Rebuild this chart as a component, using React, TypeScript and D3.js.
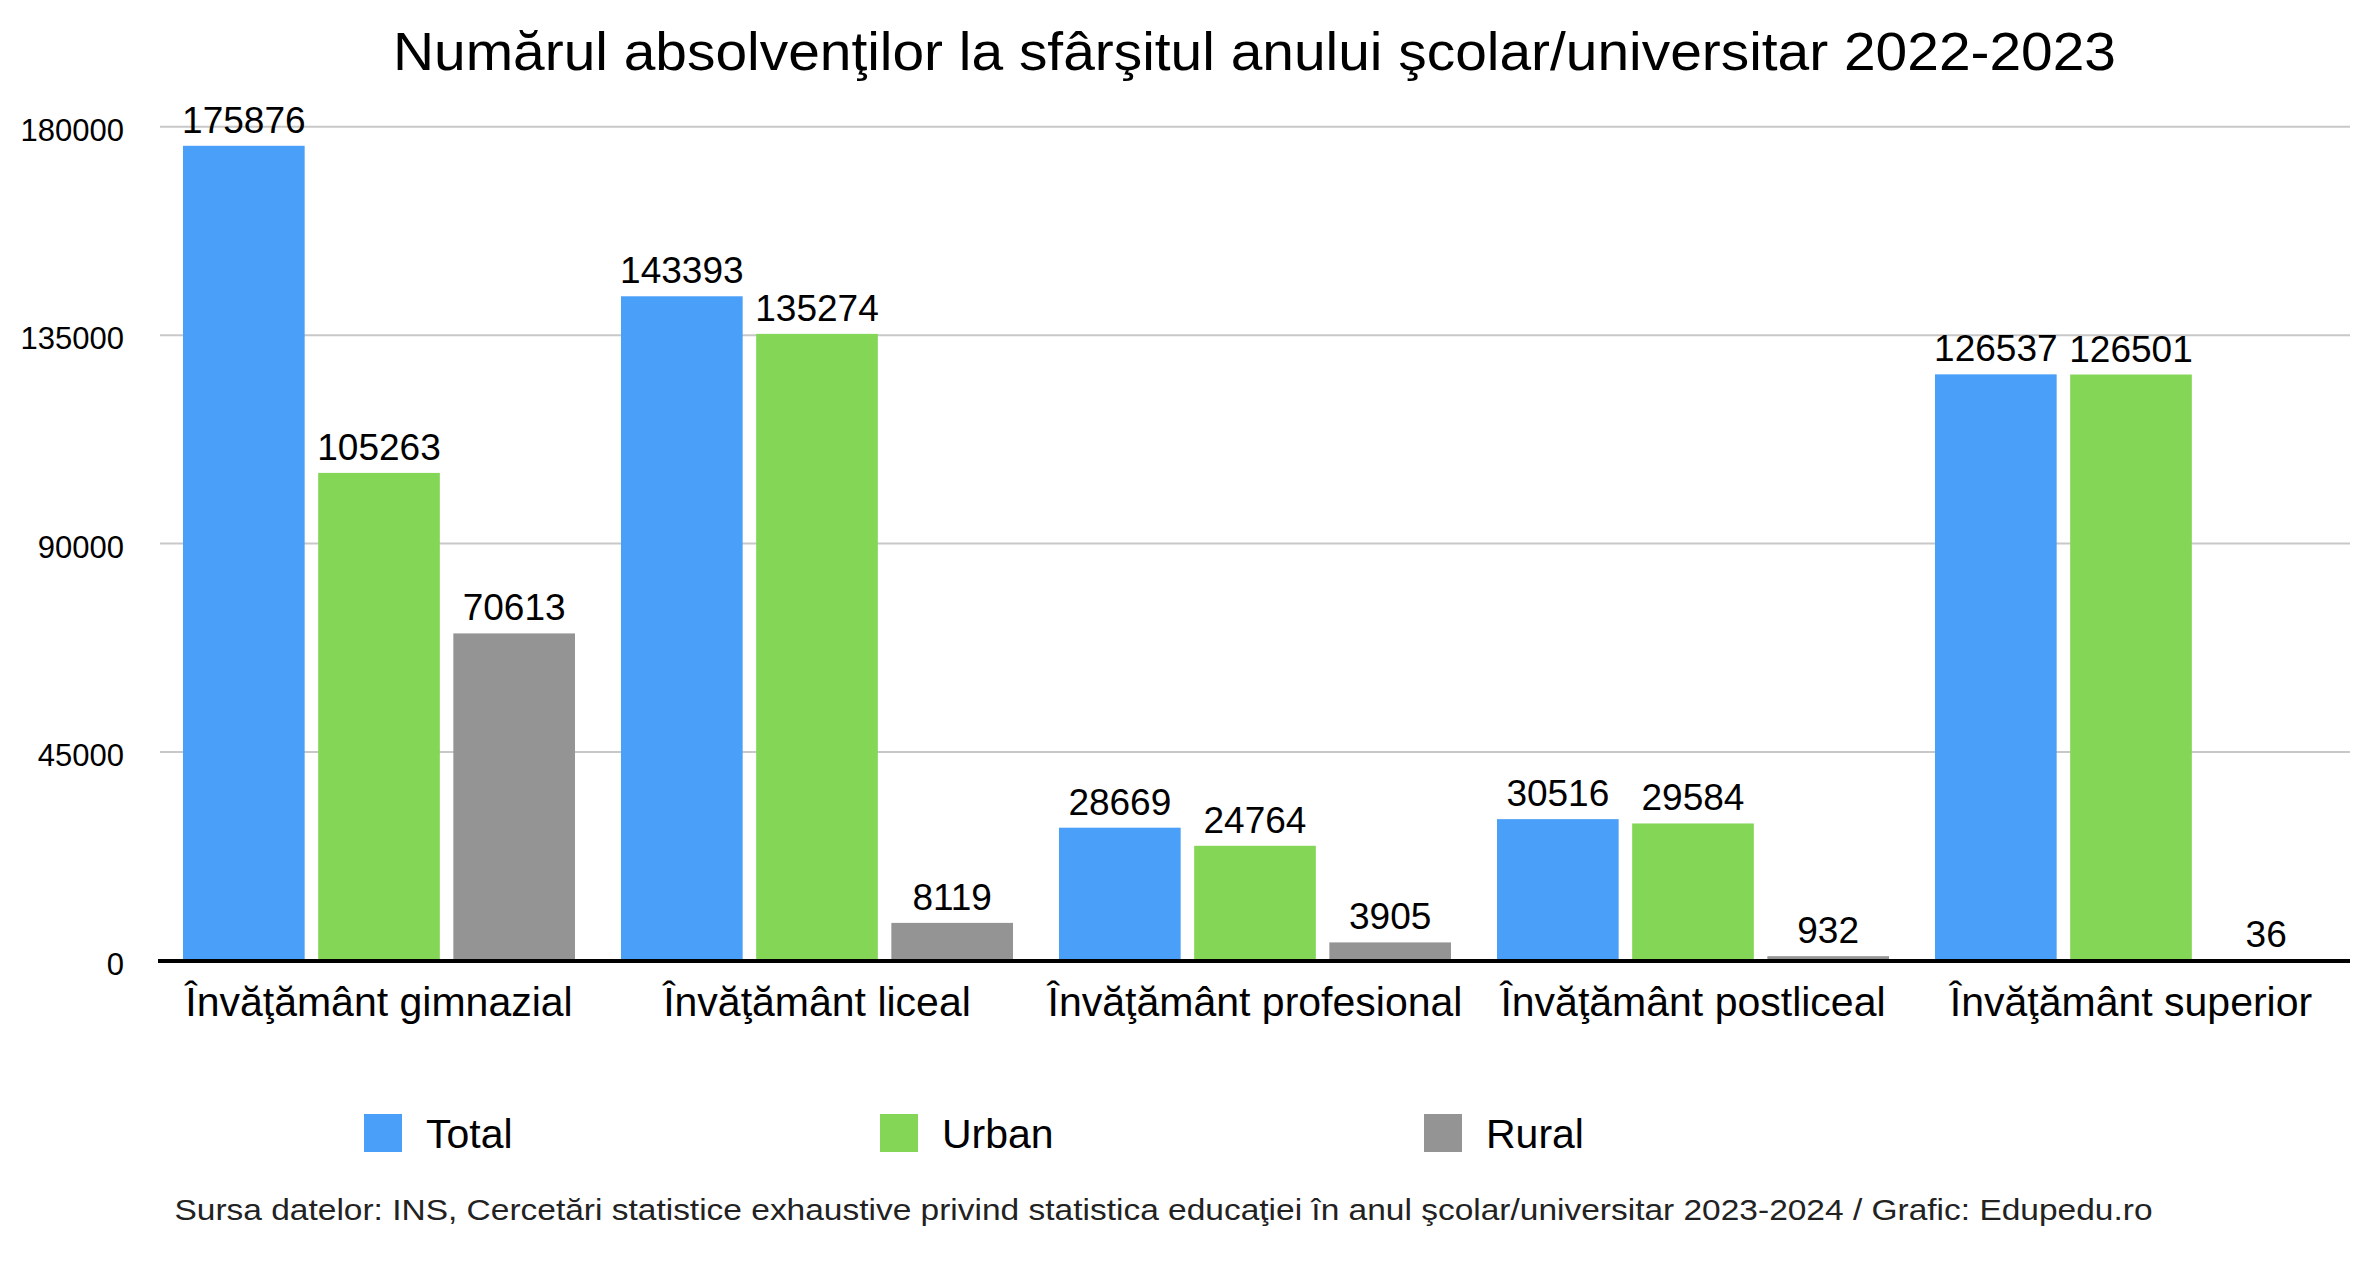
import React from "react";
import * as d3 from "d3";

const categories = [
  "Învăţământ gimnazial",
  "Învăţământ liceal",
  "Învăţământ profesional",
  "Învăţământ postliceal",
  "Învăţământ superior",
];
const seriesNames = ["Total", "Urban", "Rural"];
const totalValues = [175876, 143393, 28669, 30516, 126537];
const urbanValues = [105263, 135274, 24764, 29584, 126501];
const ruralValues = [70613, 8119, 3905, 932, 36];
const yTicks = [0, 45000, 90000, 135000, 180000];
const colors = ["#4a9ff9", "#84d656", "#949494"];

const title = "Numărul absolvenţilor la sfârşitul anului şcolar/universitar 2022-2023";
const footer =
  "Sursa datelor: INS, Cercetări statistice exhaustive privind statistica educaţiei în anul şcolar/universitar 2023-2024 / Grafic: Edupedu.ro";

const W = 2373;
const H = 1268;
const FONT = "'Liberation Sans', Arial, Helvetica, sans-serif";

export default function App() {
  const series = [totalValues, urbanValues, ruralValues];
  const x = d3.scaleBand<string>().domain(categories).range([160, 2350]).paddingInner(0).paddingOuter(0);
  const inner = d3
    .scaleBand<string>()
    .domain(seriesNames)
    .range([23, x.bandwidth() - 23])
    .paddingInner(0.1)
    .paddingOuter(0);
  const y = d3.scaleLinear().domain([0, 180000]).range([960.5, 126.7]);

  const legendX = [364, 880, 1424];

  return (
    <svg
      width={W}
      height={H}
      viewBox={`0 0 ${W} ${H}`}
      style={{ position: "absolute", left: 0, top: 0, background: "#fff" }}
      fontFamily={FONT}
    >
      <rect x={0} y={0} width={W} height={H} fill="#fff" />
      <text x={1254.5} y={70} fontSize={54} textAnchor="middle" fill="#000" textLength={1723} lengthAdjust="spacingAndGlyphs">
        {title}
      </text>

      {/* gridlines */}
      {yTicks.map((t) =>
        t === 0 ? null : (
          <line key={t} x1={160} x2={2350} y1={y(t)} y2={y(t)} stroke="#c8c8c8" strokeWidth={2} />
        )
      )}
      {/* y tick labels */}
      {yTicks.map((t) => (
        <text key={"l" + t} x={124} y={y(t) + 14} fontSize={31} textAnchor="end" fill="#000">
          {t}
        </text>
      ))}

      {/* bars */}
      {categories.map((c, ci) =>
        seriesNames.map((s, si) => {
          const v = series[si][ci];
          const bx = (x(c) as number) + (inner(s) as number);
          const bw = inner.bandwidth();
          const top = y(v);
          return (
            <g key={c + s}>
              <rect x={bx} y={top} width={bw} height={y(0) - top} fill={colors[si]} />
              <text x={bx + bw / 2} y={top - 13} fontSize={37} textAnchor="middle" fill="#000">
                {v}
              </text>
            </g>
          );
        })
      )}

      {/* x axis */}
      <line x1={158} x2={2350} y1={961} y2={961} stroke="#000" strokeWidth={4} />
      {categories.map((c) => (
        <text key={"c" + c} x={(x(c) as number) + x.bandwidth() / 2} y={1016} fontSize={41} textAnchor="middle" fill="#000">
          {c}
        </text>
      ))}

      {/* legend */}
      {seriesNames.map((s, i) => (
        <g key={"lg" + s}>
          <rect x={legendX[i]} y={1114} width={38} height={38} fill={colors[i]} />
          <text x={legendX[i] + 62} y={1148} fontSize={41} fill="#000">
            {s}
          </text>
        </g>
      ))}

      <text x={174.5} y={1220} fontSize={29} fill="#222" textLength={1978} lengthAdjust="spacingAndGlyphs">
        {footer}
      </text>
    </svg>
  );
}
